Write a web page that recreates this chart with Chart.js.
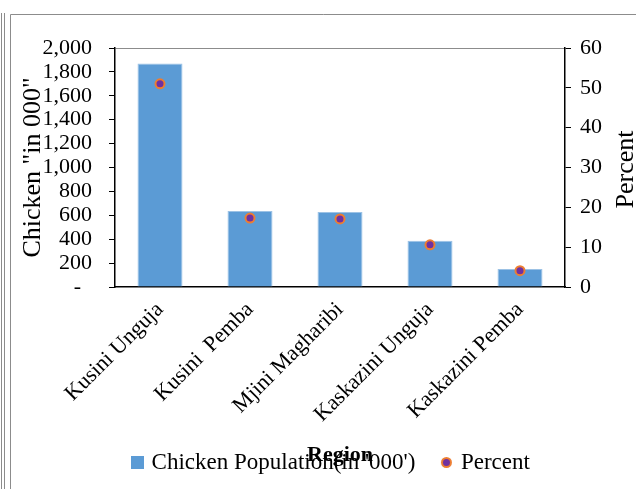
<!DOCTYPE html>
<html>
<head>
<meta charset="utf-8">
<script src="https://cdn.jsdelivr.net/npm/chart.js@4/dist/chart.umd.min.js"></script>
<style>
  html, body { margin: 0; padding: 0; background: #fff; }
  #wrap { width: 636px; height: 489px; position: relative; }
</style>
</head>
<body>
<div id="wrap"><canvas id="c" width="636" height="489"></canvas></div>
<script>
const categories = ['Kusini Unguja', 'Kusini  Pemba', 'Mjini Magharibi', 'Kaskazini Unguja', 'Kaskazini Pemba'];
const chickenPopulation = [1870, 635, 627, 388, 150];
const percentValues = [51.0, 17.3, 17.1, 10.6, 4.1];
const leftTickLabels = ['-  ', '200', '400', '600', '800', '1,000', '1,200', '1,400', '1,600', '1,800', '2,000'];
const rightTickLabels = ['0', '10', '20', '30', '40', '50', '60'];
const seriesNames = ["Chicken Population(in '000')", 'Percent'];

const SERIF = "'Liberation Serif', 'Times New Roman', serif";
const BLUE = '#5B9BD5';
const PURPLE = '#7030A0';
const ORANGE = '#ED7D31';

function makeIcon(kind) {
  const cv = document.createElement('canvas');
  cv.width = 13; cv.height = 13;
  const g = cv.getContext('2d');
  if (kind === 'rect') {
    g.fillStyle = BLUE; g.fillRect(0, 0, 13, 13);
  } else {
    g.beginPath(); g.arc(6.5, 6.5, 4.5, 0, Math.PI * 2);
    g.fillStyle = PURPLE; g.fill();
    g.lineWidth = 2; g.strokeStyle = ORANGE; g.stroke();
  }
  return cv;
}
const legendIcons = [makeIcon('rect'), makeIcon('circle')];

const decor = {
  id: 'decor',
  beforeDraw(chart) {
    const ctx = chart.ctx;
    ctx.save();
    ctx.strokeStyle = '#8c8c8c';
    ctx.lineWidth = 1;
    ctx.beginPath();
    ctx.moveTo(1.5, 13); ctx.lineTo(1.5, 489);
    ctx.moveTo(4.5, 13); ctx.lineTo(4.5, 489);
    ctx.moveTo(10.5, 489); ctx.lineTo(10.5, 14.5); ctx.lineTo(636, 14.5);
    ctx.stroke();
    ctx.restore();
  },
  afterDraw(chart) {
    const ctx = chart.ctx;
    const a = chart.chartArea;
    ctx.save();
    ctx.fillStyle = '#000';
    ctx.font = '26px ' + SERIF;
    ctx.textAlign = 'center';
    ctx.textBaseline = 'middle';
    ctx.translate(626, (a.top + a.bottom) / 2 + 2);
    ctx.rotate(-Math.PI / 2);
    ctx.fillText('Percent', 0, 0);
    ctx.restore();
  }
};

new Chart(document.getElementById('c'), {
  data: {
    labels: categories,
    datasets: [
      {
        type: 'line',
        label: seriesNames[1],
        data: percentValues,
        yAxisID: 'y1',
        showLine: false,
        backgroundColor: PURPLE,
        borderColor: ORANGE,
        borderWidth: 2,
        pointRadius: 4.5,
        pointHoverRadius: 4.5,
        pointBackgroundColor: PURPLE,
        pointBorderColor: ORANGE,
        pointBorderWidth: 2,
        order: 0
      },
      {
        type: 'bar',
        label: seriesNames[0],
        data: chickenPopulation,
        yAxisID: 'y',
        backgroundColor: BLUE,
        borderColor: '#9cc2e5',
        borderWidth: 1,
        categoryPercentage: 1.0,
        barPercentage: 0.5,
        order: 1
      }
    ]
  },
  plugins: [decor],
  options: {
    responsive: false,
    animation: false,
    events: [],
    layout: { padding: { top: 48, left: 28, right: 0, bottom: 5 } },
    plugins: {
      tooltip: { enabled: false },
      legend: {
        position: 'bottom',
        align: 'center',
        labels: {
          usePointStyle: true,
          boxWidth: 6,
          boxHeight: 13,
          padding: 28,
          color: '#000',
          font: { family: SERIF, size: 23 },
          generateLabels(chart) {
            const items = Chart.defaults.plugins.legend.labels.generateLabels(chart);
            items.forEach(it => { it.pointStyle = legendIcons[it.datasetIndex === 1 ? 0 : 1]; });
            return items.sort((p, q) => q.datasetIndex - p.datasetIndex);
          }
        }
      }
    },
    scales: {
      x: {
        type: 'category',
        offset: true,
        grid: { display: false, drawTicks: false },
        border: { display: true, color: '#000', width: 1.5 },
        ticks: {
          color: '#000',
          font: { family: SERIF, size: 22 },
          minRotation: 45,
          maxRotation: 45,
          autoSkip: false,
          padding: 10
        },
        title: {
          display: true,
          text: 'Region',
          color: '#000',
          font: { family: SERIF, size: 22, weight: 'bold' },
          padding: { top: 0, bottom: -46 }
        },
        afterFit(s) { s.height = 136; }
      },
      y: {
        type: 'linear',
        position: 'left',
        min: 0,
        max: 2000,
        ticks: {
          stepSize: 200,
          autoSkip: false,
          color: '#000',
          font: { family: SERIF, size: 22 },
          padding: 17,
          callback: (v, i) => leftTickLabels[i]
        },
        grid: {
          color: c => (c.tick && c.tick.value === 2000 ? '#8c8c8c' : 'rgba(0,0,0,0)'),
          tickColor: '#000',
          tickLength: 6,
          drawTicks: true
        },
        border: { display: true, color: '#000', width: 1.5 },
        title: {
          display: true,
          text: 'Chicken "in 000"',
          color: '#000',
          font: { family: SERIF, size: 26 },
          padding: { top: -10, bottom: 0 }
        },
        afterFit(s) { s.width = 87; }
      },
      y1: {
        type: 'linear',
        position: 'right',
        min: 0,
        max: 60,
        ticks: {
          stepSize: 10,
          autoSkip: false,
          color: '#000',
          font: { family: SERIF, size: 22 },
          padding: 9,
          callback: (v, i) => rightTickLabels[i]
        },
        grid: { drawOnChartArea: false, tickColor: '#000', tickLength: 6, drawTicks: true },
        border: { display: true, color: '#000', width: 1.5 },
        afterFit(s) { s.width = 71; }
      }
    }
  }
});
</script>
</body>
</html>
